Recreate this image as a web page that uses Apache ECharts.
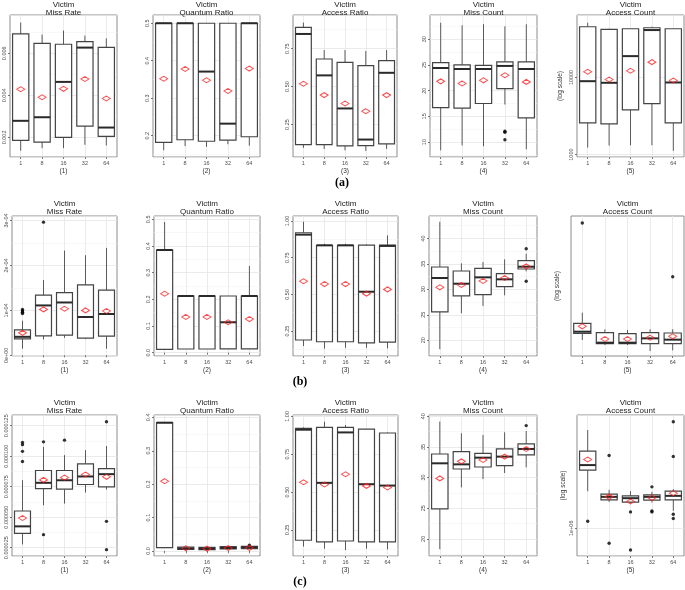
<!DOCTYPE html>
<html><head><meta charset="utf-8">
<script src="https://cdn.jsdelivr.net/npm/echarts@6/dist/echarts.min.js"></script>
<style>html,body{margin:0;padding:0;background:#fff}#c{width:685px;height:590px}</style>
</head><body><div id="c"></div>
<script>
const categories = ['1', '8', '16', '32', '64'];
const panelTitles = ['Miss Rate', 'Quantum Ratio', 'Access Ratio', 'Miss Count', 'Access Count'];
const panelTags = ['(1)', '(2)', '(3)', '(4)', '(5)'];
const rowTags = ['(a)', '(b)', '(c)'];

// each box: [lower whisker, Q1, median, Q3, upper whisker]
// ---- row (a)
const a1Box = [[0.00137,0.00186,0.00279,0.00692,0.00746],[0.00149,0.00178,0.00296,0.00647,0.00689],[0.00149,0.00200,0.00464,0.00643,0.00708],[0.00165,0.00254,0.00627,0.00655,0.00684],[0.00162,0.00205,0.00247,0.00628,0.00671]];
const a1Mean = [0.00429, 0.00391, 0.00431, 0.00478, 0.00385];
const a1Out = [];
const a2Box = [[0.161,0.182,0.500,0.500,0.500],[0.172,0.189,0.500,0.500,0.500],[0.170,0.185,0.371,0.500,0.500],[0.177,0.188,0.232,0.500,0.500],[0.173,0.197,0.500,0.500,0.500]];
const a2Mean = [0.352, 0.378, 0.348, 0.319, 0.379];
const a2Out = [];
const a3Box = [[0.096,0.118,0.847,0.891,0.922],[0.089,0.118,0.574,0.682,0.741],[0.080,0.109,0.356,0.660,0.741],[0.076,0.111,0.151,0.638,0.735],[0.089,0.122,0.591,0.671,0.741]];
const a3Mean = [0.519, 0.444, 0.389, 0.338, 0.444];
const a3Out = [];
const a4Box = [[8.4,16.7,24.4,25.45,33.2],[9.35,16.6,24.2,25.0,32.7],[9.2,17.5,24.2,24.9,32.9],[17.3,20.4,24.8,25.6,32.5],[8.6,14.7,24.2,25.6,32.9]];
const a4Mean = [21.8, 21.4, 22.0, 23.0, 21.7];
const a4Out = [[3,12.1],[3,11.9],[3,10.45]];
const a5Box = [[1233,2580,8950,45500,51300],[1309,2500,8530,41980,42850],[1321,3800,18920,42850,42850],[1321,4590,41210,44160,45500],[1117,2580,8610,42850,42850]];
const a5Mean = [11860, 9420, 12220, 15810, 9140];
const a5Out = [];
// ---- row (b)
const b1Box = [[1.47e-5,3.68e-5,4.12e-5,5.66e-5,7.72e-5],[3.53e-5,4.34e-5,1.110e-4,1.338e-4,1.676e-4],[3.90e-5,4.49e-5,1.176e-4,1.397e-4,2.331e-4],[3.60e-5,3.82e-5,8.53e-5,1.566e-4,2.228e-4],[1.47e-5,4.26e-5,9.19e-5,1.449e-4,2.390e-4]];
const b1Mean = [5.00e-5, 1.022e-4, 1.037e-4, 1.000e-4, 9.85e-5];
const b1Out = [[0,1.02e-4],[0,0.99e-4],[0,0.96e-4],[0,0.93e-4],[1,2.963e-4]];
const b2Box = [[0.0125,0.0125,0.385,0.385,0.490],[0.0138,0.0138,0.2125,0.2125,0.2125],[0.0138,0.0138,0.2125,0.2125,0.2125],[0.014,0.014,0.114,0.2125,0.2125],[0.014,0.014,0.2125,0.2125,0.325]];
const b2Mean = [0.221, 0.134, 0.134, 0.114, 0.126];
const b2Out = [];
const b3Box = [[0.148,0.189,0.907,0.920,0.995],[0.130,0.177,0.834,0.834,0.845],[0.136,0.177,0.834,0.834,0.845],[0.136,0.170,0.518,0.836,0.841],[0.132,0.175,0.830,0.836,0.902]];
const b3Mean = [0.589, 0.570, 0.570, 0.505, 0.534];
const b3Out = [];
const b4Box = [[18.24,25.56,32.22,34.38,43.27],[25.3,28.7,31.1,33.6,35.1],[26.73,28.95,32.35,34.12,35.36],[28.82,30.52,31.96,33.07,35.88],[33.53,33.99,34.44,35.62,36.99]];
const b4Mean = [30.39, 30.85, 31.63, 32.22, 34.51];
const b4Out = [[4,37.97],[4,31.57]];
const b5Box = [[220000,306000,332000,501000,849000],[172000,184000,193000,316000,373000],[172000,184000,193000,301000,361000],[128000,184000,239000,316000,373000],[132000,184000,224000,311000,373000]];
const b5Mean = [432000, 231000, 231000, 247000, 264000];
const b5Out = [[0,7.1e7],[4,5.0e6]];
// ---- row (c)
const c1Box = [[2.77e-5,3.68e-5,4.25e-5,5.51e-5,8.03e-5],[5.98e-5,7.35e-5,7.82e-5,8.83e-5,1.077e-4],[6.12e-5,7.30e-5,8.03e-5,8.83e-5,1.009e-4],[7.02e-5,7.68e-5,8.34e-5,9.38e-5,1.050e-4],[7.27e-5,7.49e-5,8.53e-5,8.99e-5,1.083e-4]];
const c1Mean = [4.94e-5, 8.06e-5, 8.25e-5, 8.50e-5, 8.31e-5];
const c1Out = [[0,1.112e-4],[0,1.095e-4],[0,1.04e-4],[0,9.57e-5],[1,1.118e-4],[1,3.57e-5],[2,1.132e-4],[4,1.283e-4],[4,4.66e-5],[4,2.34e-5]];
const c2Box = [[0.010,0.010,0.384,0.384,0.384],[0.004,0.005,0.008,0.012,0.013],[0.003,0.004,0.007,0.011,0.012],[0.005,0.006,0.009,0.013,0.014],[0.006,0.007,0.011,0.014,0.015]];
const c2Mean = [0.209, 0.008, 0.007, 0.009, 0.009];
const c2Out = [[4,0.017]];
const c3Box = [[0.140,0.182,0.912,0.921,0.927],[0.126,0.171,0.561,0.927,0.965],[0.118,0.177,0.894,0.927,0.943],[0.126,0.171,0.552,0.916,0.916],[0.122,0.171,0.543,0.890,0.894]];
const c3Mean = [0.565, 0.550, 0.618, 0.541, 0.530];
const c3Out = [];
const c4Box = [[18.31,24.9,32.32,33.84,39.13],[28.39,31.39,32.15,34.22,37.22],[29.75,31.72,33.24,33.95,36.95],[30.74,31.93,33.41,34.66,37.38],[31.66,33.68,34.66,35.48,37.6]];
const c4Mean = [29.86, 32.64, 32.86, 33.41, 34.66];
const c4Out = [[4,38.47]];
const c5Box = [[1.895e6,2.72e6,2.97e6,3.78e6,5.43e6],[1.576e6,1.631e6,1.718e6,1.799e6,1.939e6],[1.540e6,1.567e6,1.679e6,1.748e6,1.895e6],[1.558e6,1.622e6,1.718e6,1.778e6,1.873e6],[1.349e6,1.631e6,1.748e6,1.895e6,1.961e6]];
const c5Mean = [3.27e6, 1.718e6, 1.585e6, 1.689e6, 1.830e6];
const c5Out = [[0,1.129e6],[1,3.507e6],[1,7.72e5],[2,1.326e6],[2,6.88e5],[3,2.042e6],[3,1.349e6],[3,1.326e6],[4,6.275e6],[4,3.447e6],[4,1.274e6],[4,1.182e6]];

// formatters
const fx = d => v => v.toFixed(d);
const fInt = v => String(Math.round(v));
const fSci = v => {
  if (Math.abs(v) < 1e-15) return '0e+00';
  const e = Math.round(Math.log10(Math.abs(v)));
  const m = Math.round(v / Math.pow(10, e));
  return m + 'e' + (e < 0 ? '-' : '+') + String(Math.abs(e)).padStart(2, '0');
};

const panels = [
  {box:a1Box, mean:a1Mean, out:a1Out, y:{min:0.00107, max:0.00782, step:0.002, fmt:fx(3)}},
  {box:a2Box, mean:a2Mean, out:a2Out, y:{min:0.143, max:0.522, step:0.1, fmt:fx(1)}},
  {box:a3Box, mean:a3Mean, out:a3Out, y:{min:0.036, max:0.972, step:0.25, fmt:fx(2)}},
  {box:a4Box, mean:a4Mean, out:a4Out, y:{min:7.1, max:34.7, step:5, fmt:fInt}},
  {box:a5Box, mean:a5Mean, out:a5Out, y:{log:true, min:930, max:64600, fmt:fInt}},
  {box:b1Box, mean:b1Mean, out:b1Out, y:{min:-1.5e-6, max:3.1e-4, step:1e-4, fmt:fSci}},
  {box:b2Box, mean:b2Mean, out:b2Out, y:{min:-0.0125, max:0.5125, step:0.1, fmt:fx(1)}},
  {box:b3Box, mean:b3Mean, out:b3Out, y:{min:0.08, max:1.034, step:0.25, fmt:fx(2)}},
  {box:b4Box, mean:b4Mean, out:b4Out, y:{min:16.9, max:44.4, step:5, fmt:fInt}},
  {box:b5Box, mean:b5Mean, out:b5Out, y:{log:true, min:1e5, max:1e8, fmt:fSci, hide:true}},
  {box:c1Box, mean:c1Mean, out:c1Out, y:{min:0.0000182, max:0.0001338, step:0.000025, fmt:fx(6)}},
  {box:c2Box, mean:c2Mean, out:c2Out, y:{min:-0.015, max:0.407, step:0.1, fmt:fx(1)}},
  {box:c3Box, mean:c3Mean, out:c3Out, y:{min:0.078, max:1.009, step:0.25, fmt:fx(2)}},
  {box:c4Box, mean:c4Mean, out:c4Out, y:{min:17.2, max:40.2, step:5, fmt:fInt}},
  {box:c5Box, mean:c5Mean, out:c5Out, y:{log:true, min:620000, max:7.04e6, fmt:fSci}}
];

// layout (pixels)
const gridX = [
  [[10,117],[153,260],[293,397],[430,537],[577,684]],
  [[12,117],[154,260],[293,398],[429,537],[571,684]],
  [[12,117],[154,260],[293,398],[429,537],[577,684]]
];
const gridY = [[15,157],[216,356],[415,556]];
const titleTop = [1, 200, 399];
const xNameGap = [10.5, 9.5, 9];
const logNameGap = [13, 10, 8];
const rowTagPos = [[342,183],[300,382],[300,582]];

function renderBox(params, api) {
  const x = api.value(0);
  const lo = api.coord([x, api.value(1)]);
  const q1 = api.coord([x, api.value(2)]);
  const md = api.coord([x, api.value(3)]);
  const q3 = api.coord([x, api.value(4)]);
  const hi = api.coord([x, api.value(5)]);
  const w = api.size([1, 1])[0] * 0.76;
  const cx = lo[0];
  return {type:'group', children:[
    {type:'line', shape:{x1:cx, y1:hi[1], x2:cx, y2:q3[1]}, style:{stroke:'#5a5a5a', lineWidth:1}},
    {type:'line', shape:{x1:cx, y1:q1[1], x2:cx, y2:lo[1]}, style:{stroke:'#5a5a5a', lineWidth:1}},
    {type:'rect', shape:{x:cx - w/2, y:q3[1], width:w, height:Math.max(q1[1] - q3[1], 0.5)}, style:{fill:'#fff', stroke:'#444', lineWidth:1.2}},
    {type:'line', shape:{x1:cx - w/2, y1:md[1], x2:cx + w/2, y2:md[1]}, style:{stroke:'#2a2a2a', lineWidth:2}}
  ]};
}

const grids = [], xAxes = [], yAxes = [], series = [], graphics = [];
panels.forEach((p, i) => {
  const r = Math.floor(i / 5), c = i % 5;
  const [x0, x1] = gridX[r][c];
  const [y0, y1] = gridY[r];
  grids.push({left:x0, top:y0, width:x1 - x0, height:y1 - y0, show:true, backgroundColor:'#fff',
    borderColor:'#8c8c8c', borderWidth:1, containLabel:false, outerBoundsMode:'none'});
  xAxes.push({type:'category', gridIndex:i, data:categories,
    name:panelTags[c], nameLocation:'middle', nameGap:xNameGap[r],
    nameTextStyle:{fontSize:6.5, color:'#333', fontFamily:'Liberation Sans'},
    axisLine:{show:false},
    axisTick:{show:true, alignWithLabel:true, length:2, lineStyle:{color:'#555', width:0.8}},
    axisLabel:{fontSize:5.5, color:'#4d4d4d', margin:3.5, fontFamily:'Liberation Sans'},
    splitLine:{show:true, alignWithLabel:true, lineStyle:{color:'#e6e6e6', width:0.8}}
  });
  const y = p.y;
  const ya = {type: y.log ? 'log' : 'value', gridIndex:i, min:y.min, max:y.max, scale:true,
    axisLine:{show:false},
    axisTick:{show:!y.hide, length:2, lineStyle:{color:'#555', width:0.8}},
    axisLabel:{show:!y.hide, rotate:90, fontSize:5.5, color:'#4d4d4d', margin:3, formatter:y.fmt,
      showMinLabel:false, showMaxLabel:false, fontFamily:'Liberation Sans'},
    splitLine:{show:!y.hide, lineStyle:{color:'#e6e6e6', width:0.8}}
  };
  if (y.log) {
    ya.logBase = 10;
    ya.name = '(log scale)'; ya.nameLocation = 'middle'; ya.nameRotate = 90; ya.nameGap = logNameGap[r];
    ya.nameTextStyle = {fontSize:6.5, color:'#333', fontFamily:'Liberation Sans'};
  } else {
    ya.minInterval = y.step; ya.maxInterval = y.step;
    ya.minorTick = {show:false, splitNumber:2};
    ya.minorSplitLine = {show:true, lineStyle:{color:'#f4f4f4', width:0.6}};
  }
  yAxes.push(ya);
  series.push({type:'custom', xAxisIndex:i, yAxisIndex:i, renderItem:renderBox, z:2,
    encode:{x:0, y:[1,2,3,4,5]},
    data:p.box.map((b, k) => [k].concat(b))});
  if (p.out.length) series.push({type:'scatter', xAxisIndex:i, yAxisIndex:i, z:3,
    symbol:'circle', symbolSize:3.4, itemStyle:{color:'#000'}, data:p.out});
  series.push({type:'scatter', xAxisIndex:i, yAxisIndex:i, z:4,
    symbol:'diamond', symbolSize:[8,5], itemStyle:{color:'rgba(255,255,255,0)', borderColor:'#ff1a1a', borderWidth:1},
    data:p.mean.map((m, k) => [k, m])});
  graphics.push({type:'text', x:(x0 + x1) / 2, y:titleTop[r], z:10,
    style:{text:'Victim\n' + panelTitles[c], fontSize:8, lineHeight:8, fill:'#222',
      fontFamily:'Liberation Sans', textAlign:'center', textVerticalAlign:'top', align:'center', verticalAlign:'top'}});
});
rowTags.forEach((t, r) => {
  graphics.push({type:'text', x:rowTagPos[r][0], y:rowTagPos[r][1], z:10,
    style:{text:t, fontSize:12, fontWeight:'bold', fill:'#000', fontFamily:'Liberation Serif',
      textAlign:'center', textVerticalAlign:'middle', align:'center', verticalAlign:'middle'}});
});

const chart = echarts.init(document.getElementById('c'), null, {renderer:'canvas'});
chart.setOption({
  animation:false, backgroundColor:'#fff',
  grid:grids, xAxis:xAxes, yAxis:yAxes, series:series, graphic:graphics
});
</script>
</body></html>
